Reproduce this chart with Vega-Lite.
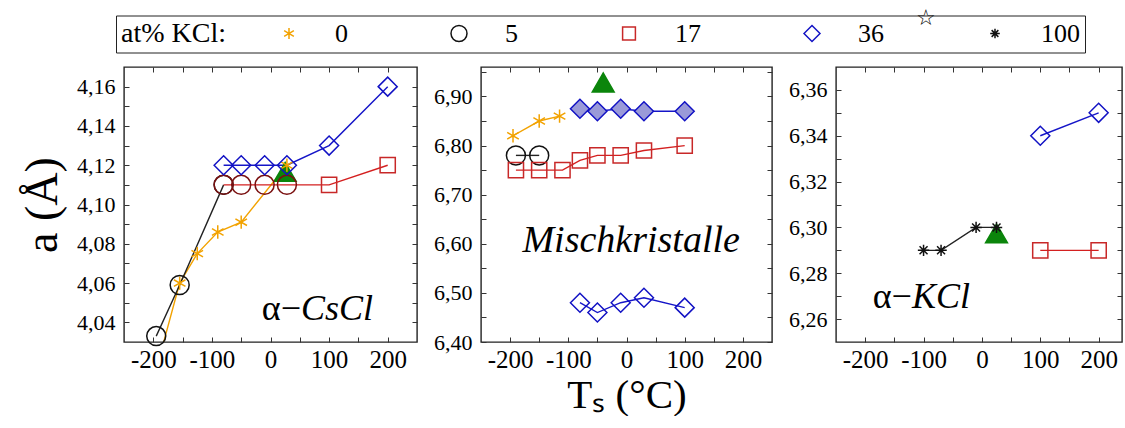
{
  "$schema": "https://vega.github.io/schema/vega-lite/v6.json",
  "background": "white",
  "padding": {"left": 18, "top": 6, "right": 0, "bottom": 0},
  "config": {
    "font": "Liberation Serif",
    "view": {"stroke": "#222", "strokeWidth": 1.4},
    "axis": {"grid": false, "domain": false, "tickSize": -5, "tickColor": "#333", "tickWidth": 1, "labelFont": "Liberation Serif", "labelColor": "#000", "titleFont": "Liberation Serif", "titleColor": "#000", "titleFontWeight": "normal", "labelFlush": false, "labelOverlap": false},
    "legend": {
      "orient": "none", "legendX": -8, "legendY": -51.5, "direction": "horizontal",
      "strokeColor": "#222", "padding": 5,
      "titleOrient": "left", "titleFontSize": 28, "titleFont": "Liberation Serif", "titleFontWeight": "normal", "titleColor": "#000", "titlePadding": 26,
      "labelFontSize": 26, "labelFont": "Liberation Serif", "labelColor": "#000", "labelOffset": 33,
      "symbolSize": 256, "symbolOffset": 24, "symbolStrokeWidth": 1.5, "clipHeight": 26, "columnPadding": 74, "gridAlign": "each"
    }
  },
  "datasets": {
    "pts": [
      {"p": "CsCl", "k": "Ref", "m": "Ref", "T": 25, "a": 4.115},
      {"p": "CsCl", "k": "0", "m": "0", "T": -185, "a": 4.027},
      {"p": "CsCl", "k": "0", "m": "0", "T": -155, "a": 4.06},
      {"p": "CsCl", "k": "0", "m": "0", "T": -125, "a": 4.075},
      {"p": "CsCl", "k": "0", "m": "0", "T": -90, "a": 4.086},
      {"p": "CsCl", "k": "0", "m": "0", "T": -50, "a": 4.091},
      {"p": "CsCl", "k": "0", "m": "0", "T": 28, "a": 4.12},
      {"p": "CsCl", "k": "5", "m": "5", "T": -195, "a": 4.033},
      {"p": "CsCl", "k": "5", "m": "5", "T": -155, "a": 4.059},
      {"p": "CsCl", "k": "5", "m": "5", "T": -80, "a": 4.11},
      {"p": "CsCl", "k": "17", "m": "5r", "T": -80, "a": 4.11},
      {"p": "CsCl", "k": "17", "m": "5r", "T": -50, "a": 4.11},
      {"p": "CsCl", "k": "17", "m": "5r", "T": -10, "a": 4.11},
      {"p": "CsCl", "k": "17", "m": "5r", "T": 28, "a": 4.11},
      {"p": "CsCl", "k": "17", "m": "17", "T": 100, "a": 4.11},
      {"p": "CsCl", "k": "17", "m": "17", "T": 200, "a": 4.12},
      {"p": "CsCl", "k": "36", "m": "36", "T": -80, "a": 4.12},
      {"p": "CsCl", "k": "36", "m": "36", "T": -50, "a": 4.12},
      {"p": "CsCl", "k": "36", "m": "36", "T": -10, "a": 4.12},
      {"p": "CsCl", "k": "36", "m": "36", "T": 28, "a": 4.12},
      {"p": "CsCl", "k": "36", "m": "36", "T": 100, "a": 4.13},
      {"p": "CsCl", "k": "36", "m": "36", "T": 200, "a": 4.16},
      {"p": "Misch", "k": "Ref", "m": "Ref", "T": -40, "a": 6.922},
      {"p": "Misch", "k": "0", "m": "0", "T": -195, "a": 6.82},
      {"p": "Misch", "k": "0", "m": "0", "T": -150, "a": 6.85},
      {"p": "Misch", "k": "0", "m": "0", "T": -115, "a": 6.86},
      {"p": "Misch", "k": "5", "m": "5", "T": -190, "a": 6.78},
      {"p": "Misch", "k": "5", "m": "5", "T": -150, "a": 6.78},
      {"p": "Misch", "k": "17", "m": "17", "T": -190, "a": 6.75},
      {"p": "Misch", "k": "17", "m": "17", "T": -150, "a": 6.75},
      {"p": "Misch", "k": "17", "m": "17", "T": -110, "a": 6.75},
      {"p": "Misch", "k": "17", "m": "17", "T": -80, "a": 6.77},
      {"p": "Misch", "k": "17", "m": "17", "T": -50, "a": 6.78},
      {"p": "Misch", "k": "17", "m": "17", "T": -10, "a": 6.78},
      {"p": "Misch", "k": "17", "m": "17", "T": 30, "a": 6.79},
      {"p": "Misch", "k": "17", "m": "17", "T": 100, "a": 6.80},
      {"p": "Misch", "k": "36", "m": "36f", "T": -80, "a": 6.875},
      {"p": "Misch", "k": "36", "m": "36f", "T": -50, "a": 6.87},
      {"p": "Misch", "k": "36", "m": "36f", "T": -10, "a": 6.875},
      {"p": "Misch", "k": "36", "m": "36f", "T": 30, "a": 6.87},
      {"p": "Misch", "k": "36", "m": "36f", "T": 100, "a": 6.87},
      {"p": "Misch", "k": "36b", "m": "36", "T": -80, "a": 6.48},
      {"p": "Misch", "k": "36b", "m": "36", "T": -50, "a": 6.46},
      {"p": "Misch", "k": "36b", "m": "36", "T": -10, "a": 6.48},
      {"p": "Misch", "k": "36b", "m": "36", "T": 30, "a": 6.49},
      {"p": "Misch", "k": "36b", "m": "36", "T": 100, "a": 6.47},
      {"p": "KCl", "k": "Ref", "m": "Ref", "T": 25, "a": 6.296},
      {"p": "KCl", "k": "100", "m": "100", "T": -100, "a": 6.29},
      {"p": "KCl", "k": "100", "m": "100", "T": -70, "a": 6.29},
      {"p": "KCl", "k": "100", "m": "100", "T": -10, "a": 6.30},
      {"p": "KCl", "k": "100", "m": "100", "T": 25, "a": 6.30},
      {"p": "KCl", "k": "17", "m": "17", "T": 100, "a": 6.29},
      {"p": "KCl", "k": "17", "m": "17", "T": 200, "a": 6.29},
      {"p": "KCl", "k": "36", "m": "36", "T": 100, "a": 6.34},
      {"p": "KCl", "k": "36", "m": "36", "T": 200, "a": 6.35}
    ]
  },
  "spacing": 64,
  "bounds": "flush",
  "hconcat": [
    {
      "width": 293, "height": 275,
      "data": {"name": "pts"},
      "transform": [{"filter": "datum.p == 'CsCl'"}],
      "layer": [
        {
          "mark": {"type": "line", "clip": true, "strokeWidth": 1.4},
          "transform": [{"filter": "datum.k != 'Ref'"}],
          "encoding": {
            "x": {"field": "T", "type": "quantitative", "scale": {"domain": [-250, 250], "nice": false, "zero": false},
              "axis": {"orient": "bottom", "values": [-200, -150, -100, -50, 0, 50, 100, 150, 200], "labelExpr": "datum.value % 100 == 0 ? (datum.value < 0 ? '-' + abs(datum.value) : '' + datum.value) : ''", "labelFontSize": 25, "labelPadding": 10, "title": null}},
            "y": {"field": "a", "type": "quantitative", "scale": {"domain": [4.03, 4.17], "nice": false, "zero": false},
              "axis": {"orient": "left", "values": [4.04, 4.05, 4.06, 4.07, 4.08, 4.09, 4.1, 4.11, 4.12, 4.13, 4.14, 4.15, 4.16], "labelExpr": "round(datum.value * 100) % 2 == 0 ? replace(format(datum.value, '.2f'), '.', ',') : ''", "labelFontSize": 22, "labelPadding": 14, "title": "a (Å)", "titleFontSize": 46, "titlePadding": 10}},
            "color": {"field": "k", "type": "nominal", "scale": {"domain": ["0", "5", "17", "36", "36b", "100"], "range": ["#f2a200", "#222222", "#d42020", "#1515c8", "#1515c8", "#222222"]}, "legend": null},
            "detail": {"field": "k"}
          }
        },
        {
          "mark": {"type": "point", "size": 361, "strokeWidth": 1.5, "opacity": 1},
          "transform": [{"filter": "datum.a >= 4.03"}],
          "encoding": {
            "x": {"field": "T", "type": "quantitative", "axis": {"orient": "top", "values": [-200, -150, -100, -50, 0, 50, 100, 150, 200], "labels": false, "title": null}},
            "y": {"field": "a", "type": "quantitative", "axis": {"orient": "right", "values": [4.04, 4.05, 4.06, 4.07, 4.08, 4.09, 4.1, 4.11, 4.12, 4.13, 4.14, 4.15, 4.16], "labels": false, "title": null}},
            "shape": {"field": "m", "type": "nominal",
              "scale": {"domain": ["0", "5", "5r", "17", "36", "36f", "100", "Ref"], "range": ["M0,-0.7L0,0.7M-0.61,-0.35L0.61,0.35M-0.61,0.35L0.61,-0.35", "circle", "circle", "M-0.8,-0.8L0.8,-0.8L0.8,0.8L-0.8,0.8Z", "diamond", "diamond", "M0,-0.6L0,0.6M-0.6,0L0.6,0M-0.42,-0.42L0.42,0.42M-0.42,0.42L0.42,-0.42", "M-1.15,0.66L1.15,0.66L0,-1.33Z"]},
              "legend": {"title": "at% KCl:", "values": ["0", "5", "17", "36", "100"]}},
            "stroke": {"field": "m", "type": "nominal",
              "scale": {"domain": ["0", "5", "5r", "17", "36", "36f", "100", "Ref"], "range": ["#f2a200", "#111111", "#7a1010", "#c82828", "#1212c4", "#1212c4", "#111111", "#0b850b"]},
              "legend": {"title": "at% KCl:", "values": ["0", "5", "17", "36", "100"]}},
            "fill": {"field": "m", "type": "nominal",
              "scale": {"domain": ["0", "5", "5r", "17", "36", "36f", "100", "Ref"], "range": ["transparent", "transparent", "transparent", "transparent", "transparent", "#9a9ad8", "transparent", "#0b850b"]},
              "legend": {"title": "at% KCl:", "values": ["0", "5", "17", "36", "100"]}}
          }
        },
        {
          "data": {"values": [{}]},
          "mark": {"type": "text", "text": "α−", "align": "right", "baseline": "middle", "fontSize": 36, "font": "Liberation Serif"},
          "encoding": {"x": {"datum": 52, "type": "quantitative", "axis": null}, "y": {"datum": 4.047, "type": "quantitative", "axis": null}}
        },
        {
          "data": {"values": [{}]},
          "mark": {"type": "text", "text": "CsCl", "align": "left", "baseline": "middle", "fontSize": 36, "fontStyle": "italic", "font": "Liberation Serif"},
          "encoding": {"x": {"datum": 52, "type": "quantitative", "axis": null}, "y": {"datum": 4.047, "type": "quantitative", "axis": null}}
        }
      ]
    },
    {
      "width": 291, "height": 275,
      "data": {"name": "pts"},
      "transform": [{"filter": "datum.p == 'Misch'"}],
      "layer": [
        {
          "mark": {"type": "line", "clip": true, "strokeWidth": 1.4},
          "transform": [{"filter": "datum.k != 'Ref'"}],
          "encoding": {
            "x": {"field": "T", "type": "quantitative", "scale": {"domain": [-250, 250], "nice": false, "zero": false},
              "axis": {"orient": "bottom", "values": [-200, -150, -100, -50, 0, 50, 100, 150, 200], "labelExpr": "datum.value % 100 == 0 ? (datum.value < 0 ? '-' + abs(datum.value) : '' + datum.value) : ''", "labelFontSize": 25, "labelPadding": 10, "title": "Tₛ (°C)", "titleFontSize": 41, "titlePadding": 3}},
            "y": {"field": "a", "type": "quantitative", "scale": {"domain": [6.4, 6.96], "nice": false, "zero": false},
              "axis": {"orient": "left", "values": [6.4, 6.45, 6.5, 6.55, 6.6, 6.65, 6.7, 6.75, 6.8, 6.85, 6.9, 6.95], "labelExpr": "round(datum.value * 100) % 10 == 0 ? replace(format(datum.value, '.2f'), '.', ',') : ''", "labelFontSize": 22, "labelPadding": 14, "title": null}},
            "color": {"field": "k", "type": "nominal", "scale": {"domain": ["0", "5", "17", "36", "36b", "100"], "range": ["#f2a200", "#222222", "#d42020", "#1515c8", "#1515c8", "#222222"]}, "legend": null},
            "detail": {"field": "k"}
          }
        },
        {
          "mark": {"type": "point", "size": 361, "strokeWidth": 1.5, "opacity": 1},
          "encoding": {
            "x": {"field": "T", "type": "quantitative", "axis": {"orient": "top", "values": [-200, -150, -100, -50, 0, 50, 100, 150, 200], "labels": false, "title": null}},
            "y": {"field": "a", "type": "quantitative", "axis": {"orient": "right", "values": [6.4, 6.45, 6.5, 6.55, 6.6, 6.65, 6.7, 6.75, 6.8, 6.85, 6.9, 6.95], "labels": false, "title": null}},
            "shape": {"field": "m", "type": "nominal", "scale": {"domain": ["0", "5", "5r", "17", "36", "36f", "100", "Ref"], "range": ["M0,-0.7L0,0.7M-0.61,-0.35L0.61,0.35M-0.61,0.35L0.61,-0.35", "circle", "circle", "M-0.8,-0.8L0.8,-0.8L0.8,0.8L-0.8,0.8Z", "diamond", "diamond", "M0,-0.6L0,0.6M-0.6,0L0.6,0M-0.42,-0.42L0.42,0.42M-0.42,0.42L0.42,-0.42", "M-1.15,0.66L1.15,0.66L0,-1.33Z"]}, "legend": null},
            "stroke": {"field": "m", "type": "nominal", "scale": {"domain": ["0", "5", "5r", "17", "36", "36f", "100", "Ref"], "range": ["#f2a200", "#111111", "#7a1010", "#c82828", "#1212c4", "#1212c4", "#111111", "#0b850b"]}, "legend": null},
            "fill": {"field": "m", "type": "nominal", "scale": {"domain": ["0", "5", "5r", "17", "36", "36f", "100", "Ref"], "range": ["transparent", "transparent", "transparent", "transparent", "transparent", "#9a9ad8", "transparent", "#0b850b"]}, "legend": null}
          }
        },
        {
          "data": {"values": [{}]},
          "mark": {"type": "text", "text": "Mischkristalle", "align": "center", "baseline": "middle", "fontSize": 38, "fontStyle": "italic", "font": "Liberation Serif"},
          "encoding": {"x": {"datum": 8, "type": "quantitative", "axis": null}, "y": {"datum": 6.606, "type": "quantitative", "axis": null}}
        }
      ]
    },
    {
      "width": 286, "height": 275,
      "data": {"name": "pts"},
      "transform": [{"filter": "datum.p == 'KCl'"}],
      "layer": [
        {
          "mark": {"type": "line", "clip": true, "strokeWidth": 1.4},
          "transform": [{"filter": "datum.k != 'Ref'"}],
          "encoding": {
            "x": {"field": "T", "type": "quantitative", "scale": {"domain": [-250, 240], "nice": false, "zero": false},
              "axis": {"orient": "bottom", "values": [-200, -150, -100, -50, 0, 50, 100, 150, 200], "labelExpr": "datum.value % 100 == 0 ? (datum.value < 0 ? '-' + abs(datum.value) : '' + datum.value) : ''", "labelFontSize": 25, "labelPadding": 10, "title": null}},
            "y": {"field": "a", "type": "quantitative", "scale": {"domain": [6.25, 6.37], "nice": false, "zero": false},
              "axis": {"orient": "left", "values": [6.26, 6.27, 6.28, 6.29, 6.3, 6.31, 6.32, 6.33, 6.34, 6.35, 6.36], "labelExpr": "round(datum.value * 100) % 2 == 0 ? replace(format(datum.value, '.2f'), '.', ',') : ''", "labelFontSize": 22, "labelPadding": 14, "title": null}},
            "color": {"field": "k", "type": "nominal", "scale": {"domain": ["0", "5", "17", "36", "36b", "100"], "range": ["#f2a200", "#222222", "#d42020", "#1515c8", "#1515c8", "#222222"]}, "legend": null},
            "detail": {"field": "k"}
          }
        },
        {
          "mark": {"type": "point", "size": 361, "strokeWidth": 1.5, "opacity": 1},
          "encoding": {
            "x": {"field": "T", "type": "quantitative", "axis": {"orient": "top", "values": [-200, -150, -100, -50, 0, 50, 100, 150, 200], "labels": false, "title": null}},
            "y": {"field": "a", "type": "quantitative", "axis": {"orient": "right", "values": [6.26, 6.27, 6.28, 6.29, 6.3, 6.31, 6.32, 6.33, 6.34, 6.35, 6.36], "labels": false, "title": null}},
            "shape": {"field": "m", "type": "nominal", "scale": {"domain": ["0", "5", "5r", "17", "36", "36f", "100", "Ref"], "range": ["M0,-0.7L0,0.7M-0.61,-0.35L0.61,0.35M-0.61,0.35L0.61,-0.35", "circle", "circle", "M-0.8,-0.8L0.8,-0.8L0.8,0.8L-0.8,0.8Z", "diamond", "diamond", "M0,-0.6L0,0.6M-0.6,0L0.6,0M-0.42,-0.42L0.42,0.42M-0.42,0.42L0.42,-0.42", "M-1.15,0.66L1.15,0.66L0,-1.33Z"]}, "legend": null},
            "stroke": {"field": "m", "type": "nominal", "scale": {"domain": ["0", "5", "5r", "17", "36", "36f", "100", "Ref"], "range": ["#f2a200", "#111111", "#7a1010", "#c82828", "#1212c4", "#1212c4", "#111111", "#0b850b"]}, "legend": null},
            "fill": {"field": "m", "type": "nominal", "scale": {"domain": ["0", "5", "5r", "17", "36", "36f", "100", "Ref"], "range": ["transparent", "transparent", "transparent", "transparent", "transparent", "#9a9ad8", "transparent", "#0b850b"]}, "legend": null}
          }
        },
        {
          "data": {"values": [{}]},
          "mark": {"type": "text", "text": "α−", "align": "right", "baseline": "middle", "fontSize": 36, "font": "Liberation Serif"},
          "encoding": {"x": {"datum": -120, "type": "quantitative", "axis": null}, "y": {"datum": 6.2697, "type": "quantitative", "axis": null}}
        },
        {
          "data": {"values": [{}]},
          "mark": {"type": "text", "text": "KCl", "align": "left", "baseline": "middle", "fontSize": 36, "fontStyle": "italic", "font": "Liberation Serif"},
          "encoding": {"x": {"datum": -120, "type": "quantitative", "axis": null}, "y": {"datum": 6.2697, "type": "quantitative", "axis": null}}
        },
        {
          "data": {"values": [{}]},
          "mark": {"type": "text", "text": "☆", "align": "center", "baseline": "middle", "fontSize": 22, "font": "DejaVu Sans", "color": "#000", "clip": false},
          "encoding": {"x": {"datum": -96, "type": "quantitative", "axis": null}, "y": {"datum": 6.3915, "type": "quantitative", "axis": null}}
        }
      ]
    }
  ]
}
